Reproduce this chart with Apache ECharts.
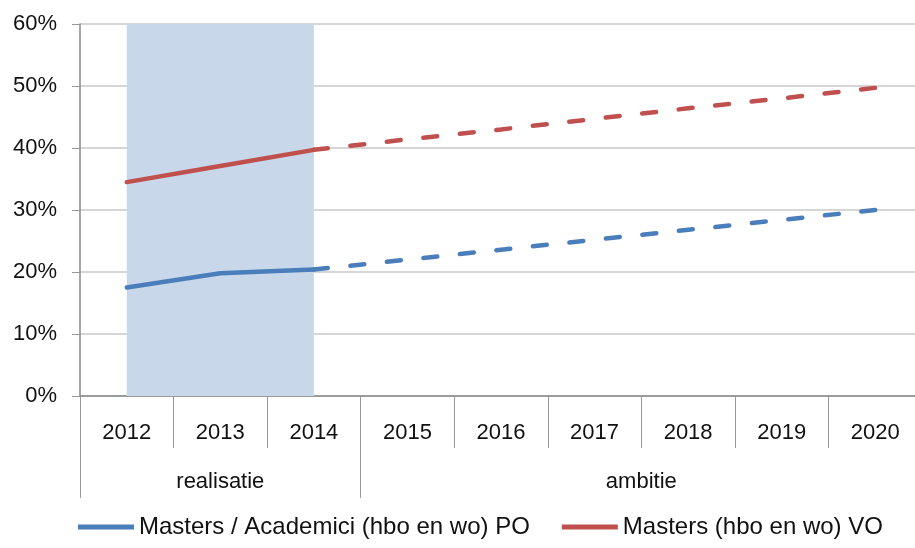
<!DOCTYPE html>
<html>
<head>
<meta charset="utf-8">
<script src="https://cdn.jsdelivr.net/npm/echarts@6/dist/echarts.min.js"></script>
<style>
  html, body { margin: 0; padding: 0; background: #fff; }
  #chart { width: 915px; height: 548px; }
</style>
</head>
<body>
<div id="chart"></div>
<script>
// jaren op de x-as
const years = ['2012', '2013', '2014', '2015', '2016', '2017', '2018', '2019', '2020']
// groepen onder de jaren (aantal jaren per groep)
const groupNames = ['realisatie', 'ambitie']
const groupSizes = [3, 6]
// percentages, realisatie t/m 2014, ambitie vanaf 2014
const poRealisatie = [17.5, 19.8, 20.4, null, null, null, null, null, null]
const poAmbitie = [null, null, 20.4, 22.0, 23.6, 25.2, 26.8, 28.4, 30.0]
const voRealisatie = [34.5, 37.1, 39.7, null, null, null, null, null, null]
const voAmbitie = [null, null, 39.7, 41.4, 43.0, 44.7, 46.4, 48.0, 49.7]
// y-as ticks
const yTicks = [0, 10, 20, 30, 40, 50, 60]

const poName = 'Masters / Academici (hbo en wo) PO'
const voName = 'Masters (hbo en wo) VO'
const blue = '#4a7ebb'
const red = '#c0504d'
const font = 'Liberation Sans, Arial, sans-serif'
const dash = [14, 22.7]

// posities van groepgrenzen en -midden op de waarde-as
const groupEdges = [0]
const groupCenters = []
groupSizes.forEach(function (n) {
  const start = groupEdges[groupEdges.length - 1]
  groupCenters.push(start + n / 2)
  groupEdges.push(start + n)
})

const myCharts = echarts.init(document.getElementById('chart'))
myCharts.setOption({
  animation: false,
  textStyle: { fontFamily: font },
  // plot loopt iets voorbij de rechterrand door
  grid: { left: 80, width: 842, top: 24, bottom: 152, outerBoundsMode: 'none', containLabel: false },
  legend: {
    left: 73,
    bottom: 4,
    icon: 'rect',
    itemWidth: 56,
    itemHeight: 5,
    itemGap: 32,
    data: [poName, voName],
    textStyle: { fontSize: 24, color: '#111', fontFamily: font }
  },
  xAxis: [
    {
      type: 'category',
      data: years,
      boundaryGap: true,
      axisLine: { lineStyle: { color: '#888', width: 1.5 } },
      axisTick: { show: true, interval: 0, length: 52, lineStyle: { color: '#999' } },
      axisLabel: { fontSize: 22, color: '#111', margin: 26, interval: 0 }
    },
    {
      type: 'value',
      min: 0,
      max: years.length,
      position: 'bottom',
      splitLine: { show: false },
      axisLine: { show: false },
      axisTick: { show: true, length: 102, customValues: groupEdges, lineStyle: { color: '#999' } },
      axisLabel: {
        fontSize: 22,
        color: '#111',
        margin: 75,
        customValues: groupCenters,
        formatter: function (v) {
          return groupNames[groupCenters.indexOf(v)] || ''
        }
      }
    }
  ],
  yAxis: {
    type: 'value',
    min: yTicks[0],
    max: yTicks[yTicks.length - 1],
    interval: 10,
    axisLine: { show: true, lineStyle: { color: '#888', width: 1.5 } },
    axisTick: { show: true, inside: false, length: 8, lineStyle: { color: '#999' } },
    axisLabel: { fontSize: 22, color: '#111', margin: 23, formatter: '{value}%' },
    splitLine: { lineStyle: { color: '#c8c8c8', width: 1.5 } }
  },
  series: [
    {
      name: poName,
      type: 'line',
      data: poRealisatie,
      showSymbol: false,
      lineStyle: { color: blue, width: 4.5, cap: 'round' },
      itemStyle: { color: blue },
      markArea: {
        silent: true,
        itemStyle: { color: '#c8d8ea' },
        data: [[{ xAxis: years[0] }, { xAxis: years[2] }]]
      },
      z: 3
    },
    {
      name: poName + ' ambitie',
      type: 'line',
      data: poAmbitie,
      showSymbol: false,
      lineStyle: { color: blue, width: 4.5, type: dash, cap: 'round' },
      itemStyle: { color: blue },
      z: 3
    },
    {
      name: voName,
      type: 'line',
      data: voRealisatie,
      showSymbol: false,
      lineStyle: { color: red, width: 4.5, cap: 'round' },
      itemStyle: { color: red },
      z: 3
    },
    {
      name: voName + ' ambitie',
      type: 'line',
      data: voAmbitie,
      showSymbol: false,
      lineStyle: { color: red, width: 4.5, type: dash, cap: 'round' },
      itemStyle: { color: red },
      z: 3
    }
  ]
})
</script>
</body>
</html>
